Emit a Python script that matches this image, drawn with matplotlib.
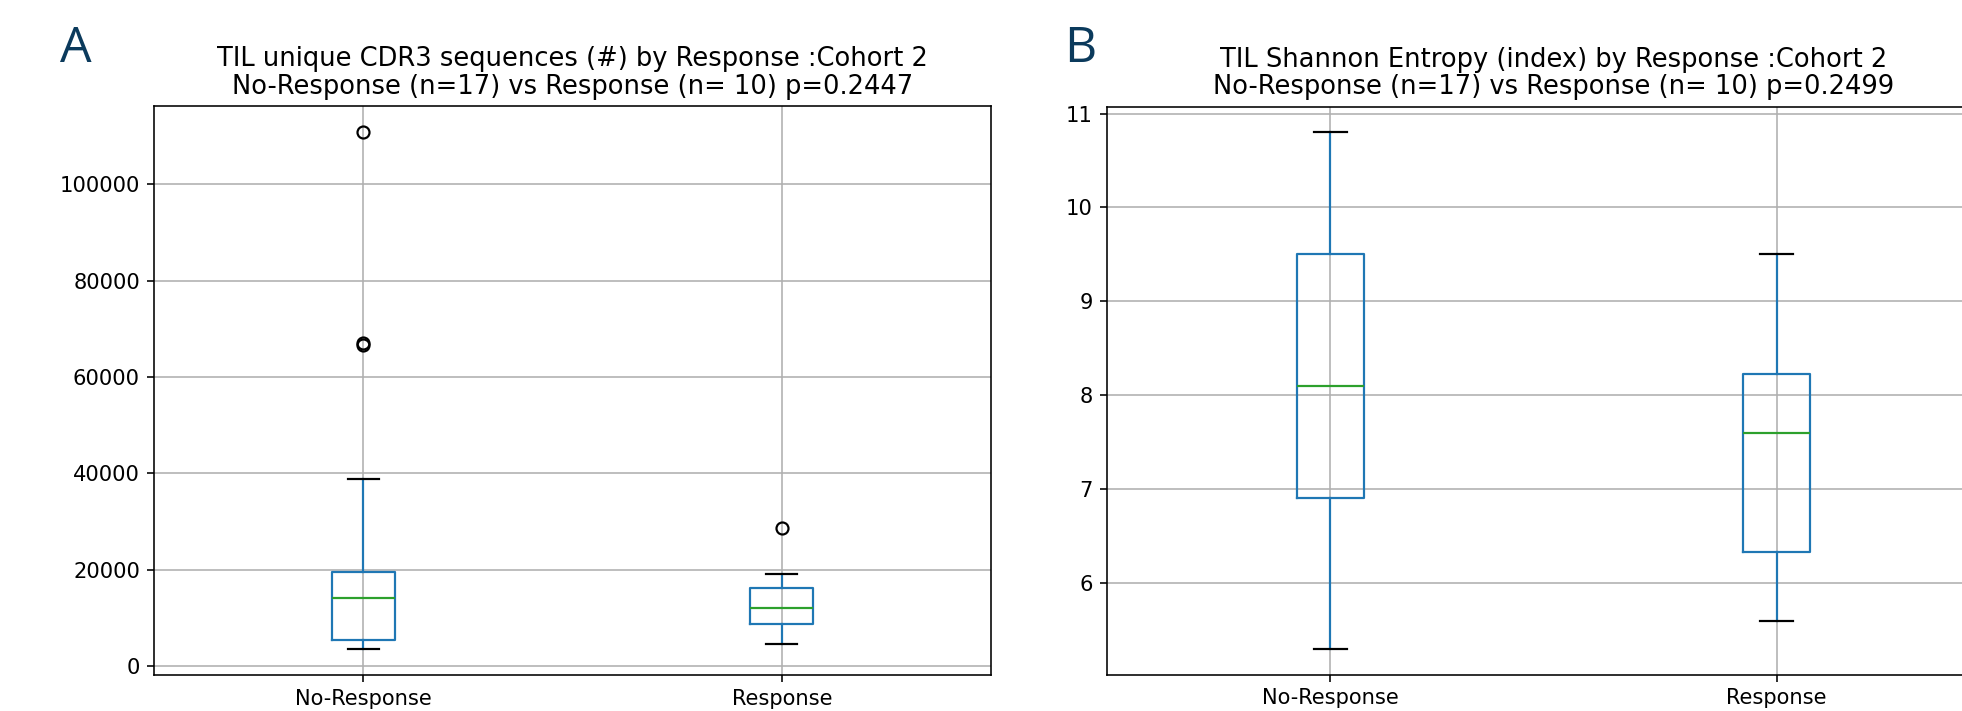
import matplotlib
matplotlib.use("Agg")
import matplotlib.pyplot as plt

groups = ["No-Response", "Response"]

# Panel A: TIL unique CDR3 sequences (#)
a_whislo = [3500, 4550]
a_q1 = [5300, 8750]
a_med = [14150, 12050]
a_q3 = [19450, 16200]
a_whishi = [38750, 19000]
a_fliers = [[66700, 67000, 110900], [28550]]

# Panel B: TIL Shannon Entropy (index)
b_whislo = [5.30, 5.60]
b_q1 = [6.90, 6.33]
b_med = [8.10, 7.60]
b_q3 = [9.50, 8.23]
b_whishi = [10.80, 9.50]
b_fliers = [[], []]

title_a = "TIL unique CDR3 sequences (#) by Response :Cohort 2\nNo-Response (n=17) vs Response (n= 10) p=0.2447"
title_b = "TIL Shannon Entropy (index) by Response :Cohort 2\nNo-Response (n=17) vs Response (n= 10) p=0.2499"

S = 1.44  # px per pt scaling relative to dpi 100
W, H = 1962, 711
fig = plt.figure(figsize=(W / 100, H / 100), dpi=100)

def make_stats(lo, q1, med, q3, hi, fl):
    out = []
    for i in range(len(groups)):
        out.append(dict(whislo=lo[i], q1=q1[i], med=med[i], q3=q3[i],
                        whishi=hi[i], fliers=fl[i], label=groups[i]))
    return out

def draw(ax, stats, title):
    ax.bxp(stats, positions=[1, 2], widths=0.15,
           boxprops=dict(color="#1f77b4", linewidth=1.1 * S),
           whiskerprops=dict(color="#1f77b4", linewidth=1.1 * S),
           capprops=dict(color="black", linewidth=1.1 * S),
           medianprops=dict(color="#2ca02c", linewidth=1.1 * S),
           flierprops=dict(marker="o", markerfacecolor="none",
                           markeredgecolor="black", markersize=6 * S,
                           markeredgewidth=1.1 * S))
    ax.set_xlim(0.5, 2.5)
    ax.grid(True, color="#b0b0b0", linewidth=0.8 * S)
    ax.set_axisbelow(True)
    for sp in ax.spines.values():
        sp.set_linewidth(0.8 * S)
    ax.tick_params(labelsize=10.5 * S, length=3.5 * S, width=0.8 * S, pad=3.5 * S)
    ax.set_title(title, fontsize=12.85 * S, pad=6 * S, linespacing=1.08)

ax1 = fig.add_axes([154 / W, (H - 675) / H, 837 / W, (675 - 106) / H])
draw(ax1, make_stats(a_whislo, a_q1, a_med, a_q3, a_whishi, a_fliers), title_a)
ax1.margins(y=0.05)

ax2 = fig.add_axes([1107 / W, (H - 674.5) / H, 893 / W, (674.5 - 106.5) / H])
draw(ax2, make_stats(b_whislo, b_q1, b_med, b_q3, b_whishi, b_fliers), title_b)

fig.text(60 / W, 1 - 62 / H, "A", fontsize=36, color="#0b3a5c",
         family=["Open Sans", "DejaVu Sans"], va="baseline", ha="left")
fig.text(1064 / W, 1 - 62 / H, "B", fontsize=36, color="#0b3a5c",
         family=["Open Sans", "DejaVu Sans"], va="baseline", ha="left")

fig.savefig("out.png", dpi=100)
